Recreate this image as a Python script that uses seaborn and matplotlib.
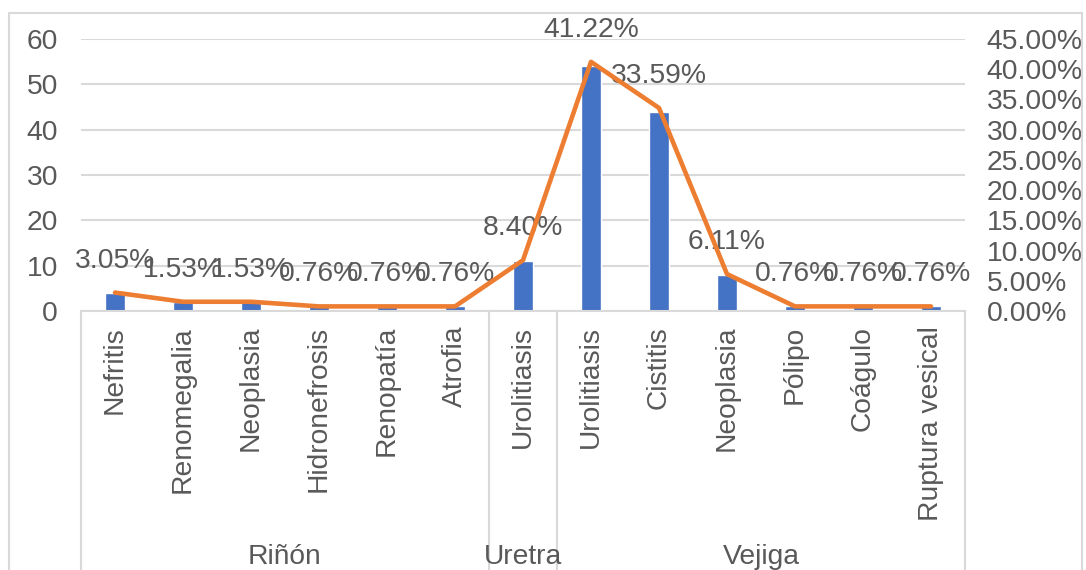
import matplotlib
matplotlib.use("Agg")
import matplotlib.pyplot as plt
import matplotlib.transforms as mtransforms
from matplotlib.patches import Rectangle
from matplotlib.ticker import FuncFormatter, MultipleLocator
import seaborn as sns
import pandas as pd

# Lesion categories along the urinary tract
categories = ["Nefritis", "Renomegalia", "Neoplasia", "Hidronefrosis", "Renopatía",
              "Atrofia", "Urolitiasis", "Urolitiasis", "Cistitis", "Neoplasia",
              "Pólipo", "Coágulo", "Ruptura vesical"]
counts = [4, 2, 2, 1, 1, 1, 11, 54, 44, 8, 1, 1, 1]
percentages = [3.05, 1.53, 1.53, 0.76, 0.76, 0.76, 8.40, 41.22, 33.59, 6.11, 0.76, 0.76, 0.76]
groups = ["Riñón", "Uretra", "Vejiga"]
group_sizes = [6, 1, 6]

W, H, DPI = 1086, 570, 100
TEXT = "#595959"
GRID = "#D9D9D9"
BLUE = "#4472C4"
ORANGE = "#ED7D31"
FS = 20.3

sns.set_theme(style="white")
plt.rcParams["font.family"] = ["Liberation Sans", "DejaVu Sans"]

df = pd.DataFrame({"pos": list(range(len(categories))),
                   "n": counts,
                   "pct": [p / 100 for p in percentages]})

fig = plt.figure(figsize=(W / DPI, H / DPI), dpi=DPI)
ax = fig.add_axes([81 / W, 1 - 311 / H, (965 - 81) / W, (311 - 39) / H])

sns.barplot(data=df, x="pos", y="n", color=BLUE, width=0.3, saturation=1,
            ax=ax, zorder=2)
ax.set_xlim(-0.5, len(categories) - 0.5)
ax.set_ylim(0, 60)
ax.yaxis.set_major_locator(MultipleLocator(10))
ax.grid(axis="y", color=GRID, linewidth=1.5, zorder=0)
ax.set_axisbelow(True)
ax.set_xlabel("")
ax.set_ylabel("")
ax.set_xticks([])
for s in ["top", "left", "right"]:
    ax.spines[s].set_visible(False)
ax.spines["bottom"].set_color(GRID)
ax.spines["bottom"].set_linewidth(1.5)
ax.tick_params(axis="y", length=0, pad=16.5, labelsize=FS, labelcolor=TEXT)

# Percentage line on the secondary axis
ax2 = ax.twinx()
sns.lineplot(data=df, x="pos", y="pct", color=ORANGE, linewidth=3.3, ax=ax2,
             zorder=3, solid_capstyle="round", solid_joinstyle="round")
ax2.set_xlim(-0.5, len(categories) - 0.5)
ax2.set_ylim(0, 0.45)
ax2.yaxis.set_major_locator(MultipleLocator(0.05))
ax2.yaxis.set_major_formatter(FuncFormatter(lambda v, _: f"{v * 100:.2f}%"))
ax2.set_xlabel("")
ax2.set_ylabel("")
for s in ax2.spines.values():
    s.set_visible(False)
ax2.tick_params(axis="y", length=0, pad=15.5, labelsize=FS, labelcolor=TEXT)

for x, p in zip(df["pos"], percentages):
    ax2.annotate(f"{p:.2f}%", xy=(x, p / 100), xytext=(0, 23),
                 textcoords="offset points", ha="center", va="center",
                 fontsize=FS, color=TEXT, zorder=1)

# Two-level category axis
trans = mtransforms.blended_transform_factory(ax.transData, ax.transAxes)
for x, name in enumerate(categories):
    ax.text(x, -0.055, name, rotation=90, ha="center", va="top",
            fontsize=FS, color=TEXT, transform=trans)

edges = [-0.5]
for size in group_sizes:
    edges.append(edges[-1] + size)
for e in edges:
    ax.plot([e, e], [0, -1.1], color=GRID, linewidth=1.5, transform=trans,
            clip_on=False)
for g, a, b in zip(groups, edges[:-1], edges[1:]):
    ax.text((a + b) / 2, -0.905, g, ha="center", va="center",
            fontsize=FS, color=TEXT, transform=trans)

# Chart area border
fig.patches.append(Rectangle((9 / W, -0.1), (1082 - 9) / W, 1 - 13 / H + 0.1,
                             transform=fig.transFigure, fill=False,
                             edgecolor=GRID, linewidth=1.5))

fig.savefig("out.png", dpi=DPI, facecolor="white")
